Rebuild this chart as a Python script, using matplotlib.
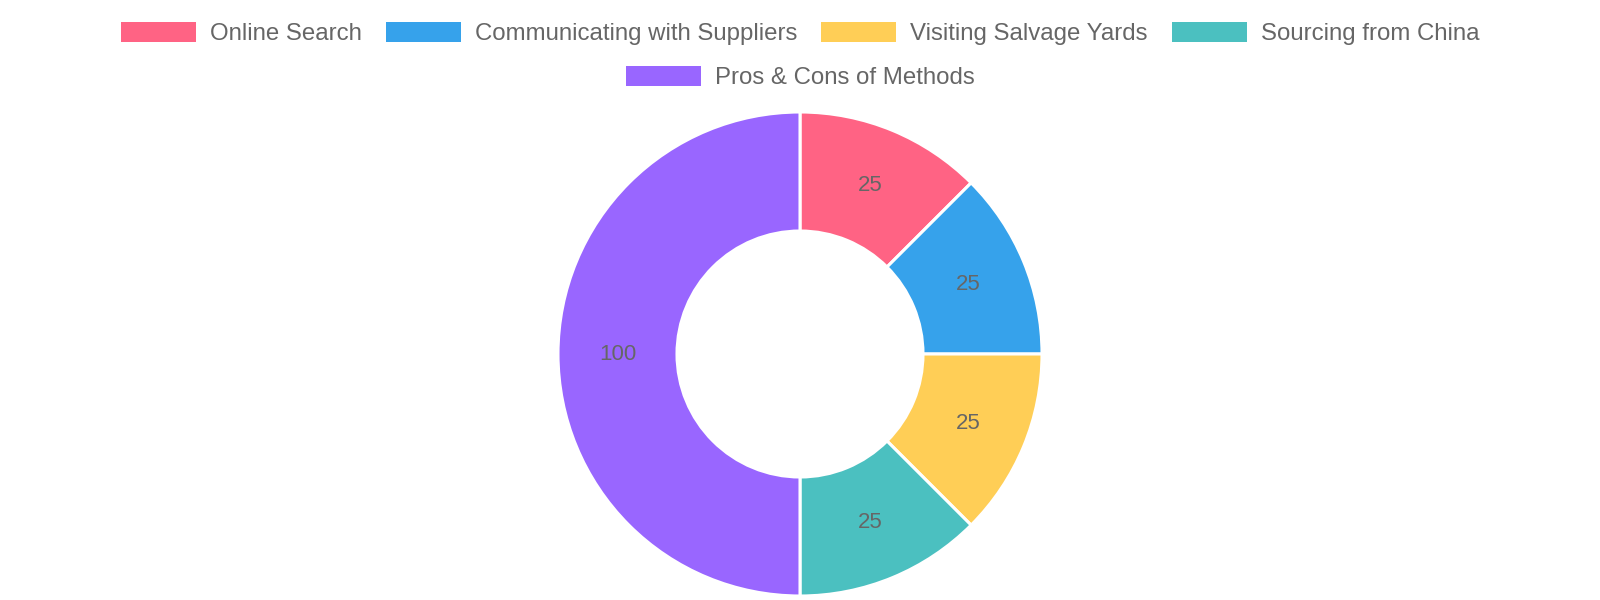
import matplotlib
import matplotlib.pyplot as plt
import numpy as np

matplotlib.use('Agg')

# dados do grafico
categorias = ['Online Search', 'Communicating with Suppliers', 'Visiting Salvage Yards',
              'Sourcing from China', 'Pros & Cons of Methods']
valores = [25, 25, 25, 25, 100]
cores = ['#ff6384', '#36a2eb', '#ffce56', '#4bc0c0', '#9966ff']
linhas_legenda = [[0, 1, 2, 3], [4]]

plt.rcParams['font.family'] = ['Liberation Sans', 'DejaVu Sans']

W, H = 1600, 600
fig = plt.figure(figsize=(16, 6), dpi=100)
ax = fig.add_axes([0, 0, 1, 1])

# donut (coordenadas em pixels, y para cima)
cx, cy = 800, H - 354
r_ext, r_int = 242, 123
fatias, _ = ax.pie(valores, colors=cores, center=(cx, cy), radius=r_ext,
                   startangle=90, counterclock=False,
                   wedgeprops=dict(width=r_ext - r_int, edgecolor='white', linewidth=2.2))

# rotulos no meio de cada fatia
total = sum(valores)
acum = 0
r_meio = (r_ext + r_int) / 2
for v in valores:
    ang = np.deg2rad(90 - 360 * (acum + v / 2) / total)
    acum += v
    ax.text(cx + r_meio * np.cos(ang), cy + r_meio * np.sin(ang), str(v),
            ha='center', va='center', fontsize=16, color='#666666')

ax.set_xlim(0, W)
ax.set_ylim(0, H)
ax.set_aspect('equal')
ax.axis('off')

# legenda manual, centrada por linha
fig.canvas.draw()
renderer = fig.canvas.get_renderer()
caixa_w, caixa_h = 75, 20
gap_txt, gap_item = 14, 24
ys = [32, 76]
for linha, yl in zip(linhas_legenda, ys):
    larguras = []
    for i in linha:
        t = ax.text(0, 0, categorias[i], fontsize=17.3)
        larguras.append(t.get_window_extent(renderer).width)
        t.remove()
    total_w = sum(caixa_w + gap_txt + lw for lw in larguras) + gap_item * (len(linha) - 1)
    x = (W - total_w) / 2
    for i, lw in zip(linha, larguras):
        ax.add_patch(plt.Rectangle((x, H - yl - caixa_h / 2), caixa_w, caixa_h,
                                   facecolor=cores[i], edgecolor='none'))
        ax.text(x + caixa_w + gap_txt, H - yl - 2, categorias[i], fontsize=17.3,
                color='#666666', ha='left', va='center')
        x += caixa_w + gap_txt + lw + gap_item

fig.savefig('out.png', dpi=100, facecolor='white')
